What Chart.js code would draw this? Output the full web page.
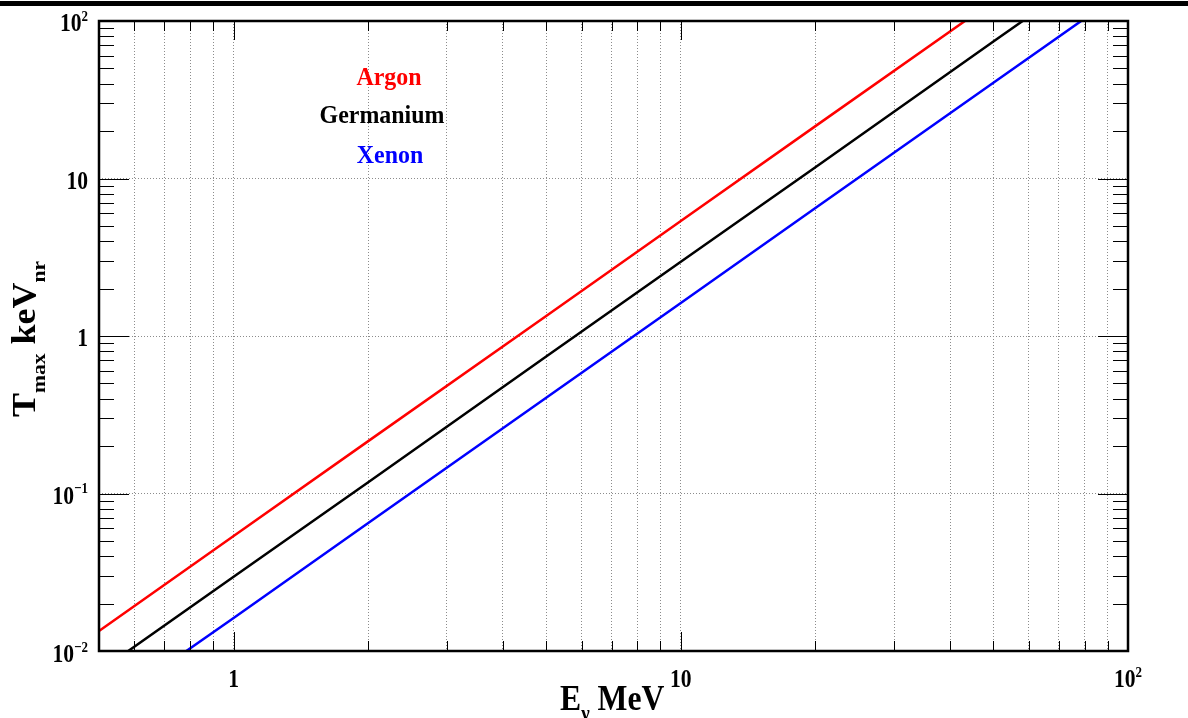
<!DOCTYPE html>
<html>
<head>
<meta charset="utf-8">
<script src="https://cdn.jsdelivr.net/npm/chart.js@4.4.1/dist/chart.umd.min.js"></script>
<style>
  html, body { margin: 0; padding: 0; background: #ffffff; }
  #wrap { width: 1188px; height: 718px; position: relative; }
</style>
</head>
<body>
<div id="wrap"><canvas id="c" width="1188" height="718"></canvas></div>
<script>
// ---- data ----
const energies = [0.5, 1, 2, 5, 10, 20, 50, 100];          // E_nu (MeV)
const argonT     = [0.0134, 0.0537, 0.215, 1.34, 5.37, 21.5, 134, 537];
const germaniumT = [0.0074, 0.0296, 0.118, 0.74, 2.96, 11.8, 74, 296];
const xenonT     = [0.0041, 0.0162, 0.065, 0.405, 1.62, 6.5, 40.5, 162];

const seriesNames  = ['Argon', 'Germanium', 'Xenon'];
const seriesColors = ['#ff0000', '#000000', '#0000ff'];

const xRange = [0.5, 100];
const yRange = [0.01, 100];
const xTickLabels = [{v: 1, base: '1', sup: ''}, {v: 10, base: '10', sup: ''}, {v: 100, base: '10', sup: '2'}];
const yTickLabels = [
  {v: 100, base: '10', sup: '2'}, {v: 10, base: '10', sup: ''}, {v: 1, base: '1', sup: ''},
  {v: 0.1, base: '10', sup: '\u22121'}, {v: 0.01, base: '10', sup: '\u22122'}
];

// minor/major tick positions of a log axis (1..9 x 10^n)
function logTicks(min, max) {
  const out = [];
  for (let e = Math.floor(Math.log10(min)); e <= Math.ceil(Math.log10(max)); e++) {
    for (let m = 1; m <= 9; m++) {
      const v = +(m * Math.pow(10, e)).toPrecision(6);
      if (v >= min * 0.9999 && v <= max * 1.0001) out.push(v);
    }
  }
  return out;
}
const isMajor = v => Math.abs(Math.log10(v) - Math.round(Math.log10(v))) < 1e-6;

const FONT = '"Liberation Serif", "Times New Roman", serif';

function richText(ctx, segs, x, y, o) {
  const size = o.size, sx = o.sx || 1, ss = size * 0.6;
  ctx.save();
  ctx.translate(x, y);
  if (o.rotate) ctx.rotate(-Math.PI / 2);
  ctx.scale(o.rotate ? 1 : sx, o.rotate ? sx : 1);
  ctx.fillStyle = o.color || '#000';
  ctx.textBaseline = 'alphabetic';
  ctx.textAlign = 'left';
  let W = 0;
  const ws = segs.map(s => {
    ctx.font = 'bold ' + (s.k ? ss : size) + 'px ' + FONT;
    const w = ctx.measureText(s.t).width; W += w; return w;
  });
  let cx = o.align === 'right' ? -W : (o.align === 'center' ? -W / 2 : 0);
  segs.forEach((s, i) => {
    ctx.font = 'bold ' + (s.k ? ss : size) + 'px ' + FONT;
    let dy = 0;
    if (s.k === 'sup') dy = -size * 0.4;
    if (s.k === 'sub') dy = size * (o.subOff || 0.28);
    ctx.fillText(s.t, cx, dy);
    cx += ws[i];
  });
  ctx.restore();
}

const decor = {
  id: 'decor',
  beforeDraw(chart) {
    const ctx = chart.ctx;
    ctx.save();
    ctx.fillStyle = '#ffffff';
    ctx.fillRect(0, 0, chart.width, chart.height);
    ctx.restore();
  },
  afterDatasetsDraw(chart) {
    const ctx = chart.ctx, a = chart.chartArea;
    const xs = chart.scales.x, ys = chart.scales.y;
    ctx.save();
    // top heavy bar
    ctx.fillStyle = '#000';
    ctx.fillRect(0, 1, chart.width, 5);
    // inner ticks
    ctx.strokeStyle = '#000';
    ctx.lineWidth = 1;
    ctx.beginPath();
    logTicks(xRange[0], xRange[1]).forEach(v => {
      const px = Math.round(xs.getPixelForValue(v)) + 0.5;
      const L = isMajor(v) ? 19 : 10;
      ctx.moveTo(px, a.bottom); ctx.lineTo(px, a.bottom - L);
      ctx.moveTo(px, a.top); ctx.lineTo(px, a.top + L);
    });
    logTicks(yRange[0], yRange[1]).forEach(v => {
      const py = Math.round(ys.getPixelForValue(v)) + 0.5;
      const L = isMajor(v) ? 30 : 15;
      ctx.moveTo(a.left, py); ctx.lineTo(a.left + L, py);
      ctx.moveTo(a.right, py); ctx.lineTo(a.right - L, py);
    });
    ctx.stroke();
    // frame
    ctx.lineWidth = 2.5;
    ctx.strokeRect(a.left, a.top, a.right - a.left, a.bottom - a.top);
    ctx.restore();

    // tick labels
    yTickLabels.forEach(t => {
      const py = ys.getPixelForValue(t.v);
      const segs = [{t: t.base}];
      if (t.sup) segs.push({t: t.sup, k: 'sup'});
      richText(ctx, segs, 88, py + (t.v === yRange[0] ? 11 : 10), {size: 26, sx: 0.83, align: 'right'});
    });
    xTickLabels.forEach(t => {
      const px = xs.getPixelForValue(t.v);
      const segs = [{t: t.base}];
      if (t.sup) segs.push({t: t.sup, k: 'sup'});
      richText(ctx, segs, px, 687, {size: 26, sx: 0.83, align: 'center'});
    });

    // axis titles
    richText(ctx, [{t: 'E'}, {t: '\u03bd', k: 'sub'}, {t: ' MeV'}], 560, 710, {size: 36, sx: 0.88, align: 'left'});
    richText(ctx, [{t: 'T'}, {t: 'max', k: 'sub'}, {t: ' keV'}, {t: 'nr', k: 'sub'}], 35, 417,
             {size: 36, sx: 0.92, align: 'left', rotate: true, subOff: 0.3});

    // legend texts
    const legPos = [[389, 85], [382, 123], [390, 163]];
    seriesNames.forEach((n, i) => {
      richText(ctx, [{t: n}], legPos[i][0], legPos[i][1], {size: 26, sx: 0.92, align: 'center', color: seriesColors[i]});
    });
  }
};

const seriesValues = [argonT, germaniumT, xenonT];
const datasets = seriesNames.map((n, i) => ({
  label: n,
  data: energies.map((e, j) => ({x: e, y: seriesValues[i][j]})),
  borderColor: seriesColors[i],
  backgroundColor: seriesColors[i],
  borderWidth: 2.5,
  pointRadius: 0,
  tension: 0,
  fill: false
}));

new Chart(document.getElementById('c'), {
  type: 'line',
  data: { datasets },
  options: {
    responsive: false,
    animation: false,
    devicePixelRatio: 1,
    layout: { padding: { top: 21, right: 60, left: 0, bottom: 0 } },
    plugins: { legend: { display: false }, tooltip: { enabled: false } },
    scales: {
      x: {
        type: 'logarithmic', min: xRange[0], max: xRange[1],
        afterBuildTicks: s => { s.ticks = logTicks(xRange[0], xRange[1]).map(v => ({value: v})); },
        afterFit: s => { s.height = 67; },
        ticks: { display: false },
        border: { display: false, dash: [1, 2] },
        grid: { drawTicks: false, color: '#8c8c8c', lineWidth: 1 }
      },
      y: {
        type: 'logarithmic', min: yRange[0], max: yRange[1],
        afterBuildTicks: s => { s.ticks = logTicks(yRange[0], yRange[1]).map(v => ({value: v})); },
        afterFit: s => { s.width = 99; },
        ticks: { display: false },
        border: { display: false, dash: [1, 2] },
        grid: { drawTicks: false, lineWidth: 1,
                color: c => (c.tick && isMajor(c.tick.value)) ? '#8c8c8c' : 'rgba(0,0,0,0)' }
      }
    }
  },
  plugins: [decor]
});
</script>
</body>
</html>
